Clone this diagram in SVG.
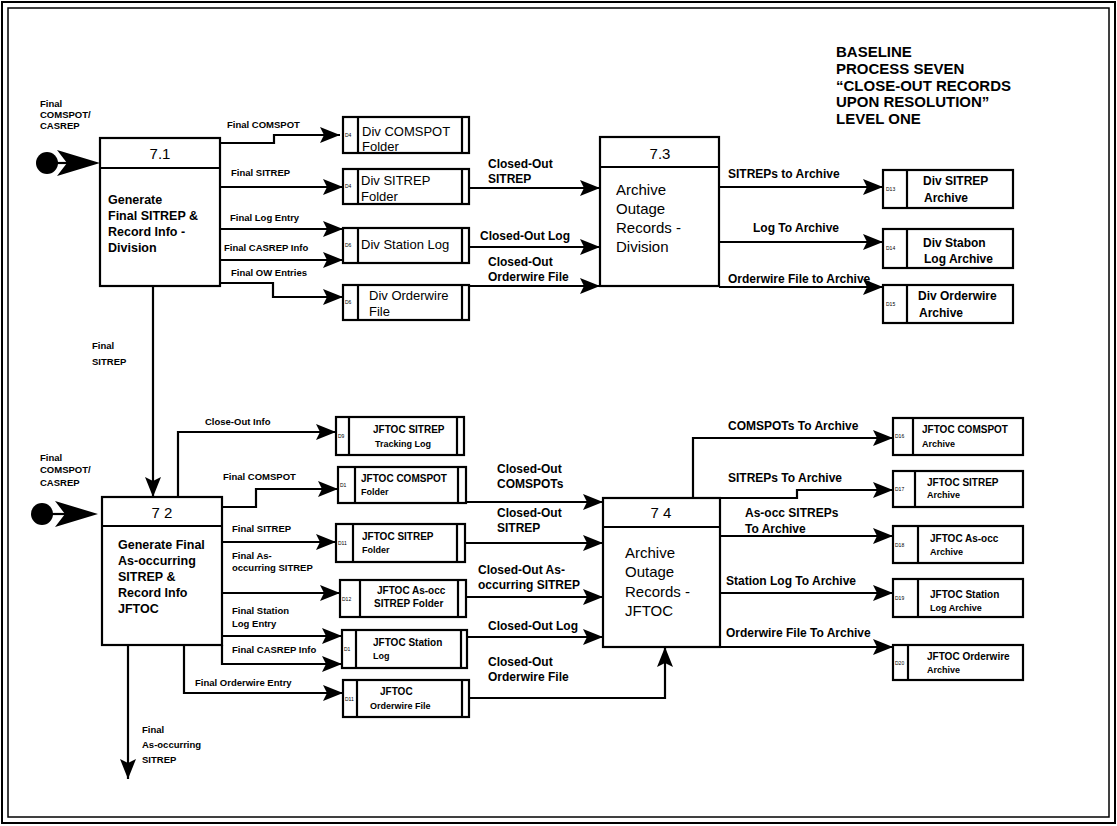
<svg xmlns="http://www.w3.org/2000/svg" width="1117" height="826" viewBox="0 0 1117 826">
<style>
text{font-family:"Liberation Sans",Arial,sans-serif;fill:#000}
.t{font-size:15px;font-weight:bold}
.pn{font-size:15px}
.pb{font-size:12.5px;font-weight:bold}
.pr{font-size:15px}
.lb{font-size:12px;font-weight:bold}
.ls{font-size:9.5px;font-weight:bold}
.sd{font-size:13px}
.sa{font-size:12px;font-weight:bold}
.s1{font-size:10px;font-weight:bold}
.s2{font-size:9px;font-weight:bold}
.id{font-size:5px}
.box{fill:#fff;stroke:#000;stroke-width:2.2}
.ln{fill:none;stroke:#000;stroke-width:2.2}
.c{fill:none;stroke:#000;stroke-width:2.2;marker-end:url(#ah)}
</style>
<defs>
<marker id="ah" viewBox="0 0 20 16" refX="20" refY="8" markerWidth="20" markerHeight="16" markerUnits="userSpaceOnUse" orient="auto"><path d="M0,0 L20,8 L0,16 L4,8 Z" fill="#000"/></marker>
</defs>
<rect x="0" y="0" width="1117" height="826" fill="#fff"/>
<rect x="2" y="2" width="1113" height="821" fill="none" stroke="#000" stroke-width="2"/>
<rect x="8" y="8" width="1101" height="809" fill="none" stroke="#000" stroke-width="1.5"/>

<g id="title">
<text class="t" x="836" y="57">BASELINE</text>
<text class="t" x="836" y="74">PROCESS SEVEN</text>
<text class="t" x="836" y="91">“CLOSE-OUT RECORDS</text>
<text class="t" x="836" y="107">UPON RESOLUTION”</text>
<text class="t" x="836" y="124">LEVEL ONE</text>
</g>

<g id="connectors">
<circle cx="47" cy="163" r="11" fill="#000"/>
<line x1="47" y1="163" x2="68" y2="163" class="ln"/>
<polygon points="57,150 100,163 57,176 67,163" fill="#000"/>
<circle cx="42" cy="514" r="11" fill="#000"/>
<line x1="42" y1="514" x2="66" y2="514" class="ln"/>
<polygon points="55,501 98,514 55,527 65,514" fill="#000"/>
<path class="c" d="M220,143 H274 V135 H340"/>
<path class="c" d="M220,187 H343"/>
<path class="c" d="M220,229 H343"/>
<path class="c" d="M220,260 H343"/>
<path class="c" d="M220,283 H273 V297 H343"/>
<path class="c" d="M153,286 V497"/>
<path class="c" d="M469,188 H600"/>
<path class="c" d="M469,247 H600"/>
<path class="c" d="M469,286 H600"/>
<path class="c" d="M719,187 H883"/>
<path class="c" d="M719,242 H883"/>
<path class="c" d="M719,287 H883"/>
<path class="c" d="M178,497 V432 H336"/>
<path class="c" d="M222,507 H256 V489 H338"/>
<path class="c" d="M222,542 H336"/>
<path class="c" d="M222,593 H340"/>
<path class="c" d="M222,636 H342"/>
<path class="c" d="M222,645 V664 H342"/>
<path class="c" d="M184,645 V693 H343"/>
<path class="c" d="M128,645 V779"/>
<path class="c" d="M466,502 H603"/>
<path class="c" d="M465,543 H603"/>
<path class="c" d="M466,597 H603"/>
<path class="c" d="M467,637 H603"/>
<path class="c" d="M469,698 H665 V647"/>
<path class="c" d="M693,498 V438 H893"/>
<path class="c" d="M720,498 H797 V490 H893"/>
<path class="c" d="M720,536 H893"/>
<path class="c" d="M720,593 H893"/>
<path class="c" d="M720,647 H893"/>

<text class="ls" x="40" y="107">Final</text>
<text class="ls" x="40" y="118">COMSPOT/</text>
<text class="ls" x="40" y="129">CASREP</text>
<text class="ls" x="227" y="128">Final COMSPOT</text>
<text class="ls" x="231" y="176">Final SITREP</text>
<text class="ls" x="230" y="221">Final Log Entry</text>
<text class="ls" x="224" y="251">Final CASREP Info</text>
<text class="ls" x="231" y="276">Final OW Entries</text>
<text class="ls" x="92" y="349">Final</text>
<text class="ls" x="92" y="365">SITREP</text>
<text class="lb" x="488" y="168">Closed-Out</text>
<text class="lb" x="488" y="183">SITREP</text>
<text class="lb" x="480" y="240">Closed-Out Log</text>
<text class="lb" x="488" y="266">Closed-Out</text>
<text class="lb" x="488" y="281">Orderwire File</text>
<text class="lb" x="728" y="178">SITREPs to Archive</text>
<text class="lb" x="753" y="232">Log To Archive</text>
<text class="lb" x="728" y="283">Orderwire File to Archive</text>
<text class="ls" x="40" y="461">Final</text>
<text class="ls" x="40" y="473">COMSPOT/</text>
<text class="ls" x="40" y="486">CASREP</text>
<text class="ls" x="205" y="425">Close-Out Info</text>
<text class="ls" x="223" y="480">Final COMSPOT</text>
<text class="ls" x="232" y="532">Final SITREP</text>
<text class="ls" x="232" y="559">Final As-</text>
<text class="ls" x="232" y="571">occurring SITREP</text>
<text class="ls" x="232" y="614">Final Station</text>
<text class="ls" x="232" y="627">Log Entry</text>
<text class="ls" x="232" y="653">Final CASREP Info</text>
<text class="ls" x="195" y="686">Final Orderwire Entry</text>
<text class="ls" x="142" y="733">Final</text>
<text class="ls" x="142" y="748">As-occurring</text>
<text class="ls" x="142" y="763">SITREP</text>
<text class="lb" x="497" y="473">Closed-Out</text>
<text class="lb" x="497" y="488">COMSPOTs</text>
<text class="lb" x="497" y="517">Closed-Out</text>
<text class="lb" x="497" y="532">SITREP</text>
<text class="lb" x="478" y="574">Closed-Out As-</text>
<text class="lb" x="478" y="589">occurring SITREP</text>
<text class="lb" x="488" y="630">Closed-Out Log</text>
<text class="lb" x="488" y="666">Closed-Out</text>
<text class="lb" x="488" y="681">Orderwire File</text>
<text class="lb" x="728" y="430">COMSPOTs To Archive</text>
<text class="lb" x="728" y="482">SITREPs To Archive</text>
<text class="lb" x="745" y="517">As-occ SITREPs</text>
<text class="lb" x="745" y="533">To Archive</text>
<text class="lb" x="726" y="585">Station Log To Archive</text>
<text class="lb" x="726" y="637">Orderwire File To Archive</text>
</g>

<g id="p71">
<rect class="box" x="100" y="138" width="120" height="148"/>
<line class="ln" x1="100" y1="168" x2="220" y2="168"/>
<text class="pn" x="160" y="159" text-anchor="middle">7.1</text>
<text class="pb" x="108" y="204">Generate</text>
<text class="pb" x="108" y="220">Final SITREP &amp;</text>
<text class="pb" x="108" y="236">Record Info -</text>
<text class="pb" x="108" y="252">Division</text>
</g>
<g id="p73">
<rect class="box" x="600" y="137" width="119" height="149"/>
<line class="ln" x1="600" y1="167" x2="719" y2="167"/>
<text class="pn" x="660" y="159" text-anchor="middle">7.3</text>
<text class="pr" x="616" y="195">Archive</text>
<text class="pr" x="616" y="214">Outage</text>
<text class="pr" x="616" y="233">Records -</text>
<text class="pr" x="616" y="252">Division</text>
</g>
<g id="p72">
<rect class="box" x="102" y="497" width="120" height="148"/>
<line class="ln" x1="102" y1="526" x2="222" y2="526"/>
<text class="pn" x="162" y="518" text-anchor="middle">7 2</text>
<text class="pb" x="118" y="549">Generate Final</text>
<text class="pb" x="118" y="565">As-occurring</text>
<text class="pb" x="118" y="581">SITREP &amp;</text>
<text class="pb" x="118" y="597">Record Info</text>
<text class="pb" x="118" y="613">JFTOC</text>
</g>
<g id="p74">
<rect class="box" x="603" y="498" width="117" height="149"/>
<line class="ln" x1="603" y1="527" x2="720" y2="527"/>
<text class="pn" x="661" y="518" text-anchor="middle">7 4</text>
<text class="pr" x="625" y="558">Archive</text>
<text class="pr" x="625" y="577">Outage</text>
<text class="pr" x="625" y="597">Records -</text>
<text class="pr" x="625" y="616">JFTOC</text>
</g>

<g id="d4">
<rect class="box" x="343" y="117" width="126" height="36"/>
<line class="ln" x1="358" y1="117" x2="358" y2="153"/><line class="ln" x1="462" y1="117" x2="462" y2="153"/>
<text class="id" x="345" y="137">D4</text>
<text class="sd" x="362" y="136">Div COMSPOT</text>
<text class="sd" x="362" y="151">Folder</text>
</g>
<g id="d5">
<rect class="box" x="343" y="169" width="126" height="35"/>
<line class="ln" x1="358" y1="169" x2="358" y2="204"/><line class="ln" x1="462" y1="169" x2="462" y2="204"/>
<text class="id" x="345" y="188">D4</text>
<text class="sd" x="361" y="185">Div SITREP</text>
<text class="sd" x="361" y="201">Folder</text>
</g>
<g id="d6">
<rect class="box" x="343" y="228" width="126" height="35"/>
<line class="ln" x1="358" y1="228" x2="358" y2="263"/><line class="ln" x1="462" y1="228" x2="462" y2="263"/>
<text class="id" x="345" y="247">D6</text>
<text class="sd" x="361" y="249">Div Station Log</text>
</g>
<g id="d8">
<rect class="box" x="343" y="285" width="126" height="35"/>
<line class="ln" x1="358" y1="285" x2="358" y2="320"/><line class="ln" x1="462" y1="285" x2="462" y2="320"/>
<text class="id" x="345" y="304">D6</text>
<text class="sd" x="369" y="300">Div Orderwire</text>
<text class="sd" x="369" y="316">File</text>
</g>
<g id="d13">
<rect class="box" x="883" y="170" width="130" height="38"/>
<line class="ln" x1="907" y1="170" x2="907" y2="208"/>
<text class="id" x="886" y="191">D13</text>
<text class="sa" x="923" y="185">Div SITREP</text>
<text class="sa" x="924" y="202">Archive</text>
</g>
<g id="d14">
<rect class="box" x="883" y="229" width="130" height="39"/>
<line class="ln" x1="907" y1="229" x2="907" y2="268"/>
<text class="id" x="886" y="250">D14</text>
<text class="sa" x="923" y="247">Div Stabon</text>
<text class="sa" x="924" y="263">Log Archive</text>
</g>
<g id="d15">
<rect class="box" x="883" y="285" width="130" height="38"/>
<line class="ln" x1="907" y1="285" x2="907" y2="323"/>
<text class="id" x="886" y="306">D15</text>
<text class="sa" x="918" y="300">Div Orderwire</text>
<text class="sa" x="919" y="317">Archive</text>
</g>

<g id="s1">
<rect class="box" x="336" y="417" width="128" height="38"/>
<line class="ln" x1="349" y1="417" x2="349" y2="455"/><line class="ln" x1="457" y1="417" x2="457" y2="455"/>
<text class="id" x="338" y="438">D9</text>
<text class="s1" x="373" y="433">JFTOC SITREP</text>
<text class="s2" x="375" y="447">Tracking Log</text>
</g>
<g id="s2">
<rect class="box" x="338" y="467" width="128" height="36"/>
<line class="ln" x1="355" y1="467" x2="355" y2="503"/><line class="ln" x1="458" y1="467" x2="458" y2="503"/>
<text class="id" x="340" y="487">D1</text>
<text class="s1" x="361" y="482">JFTOC COMSPOT</text>
<text class="s2" x="361" y="495">Folder</text>
</g>
<g id="s3">
<rect class="box" x="336" y="524" width="129" height="38"/>
<line class="ln" x1="353" y1="524" x2="353" y2="562"/><line class="ln" x1="457" y1="524" x2="457" y2="562"/>
<text class="id" x="338" y="545">D11</text>
<text class="s1" x="362" y="540">JFTOC SITREP</text>
<text class="s2" x="362" y="553">Folder</text>
</g>
<g id="s4">
<rect class="box" x="340" y="580" width="126" height="37"/>
<line class="ln" x1="360" y1="580" x2="360" y2="617"/><line class="ln" x1="458" y1="580" x2="458" y2="617"/>
<text class="id" x="342" y="601">D12</text>
<text class="s1" x="377" y="594">JFTOC As-occ</text>
<text class="s1" x="374" y="607">SITREP Folder</text>
</g>
<g id="s5">
<rect class="box" x="342" y="630" width="125" height="38"/>
<line class="ln" x1="356" y1="630" x2="356" y2="668"/><line class="ln" x1="461" y1="630" x2="461" y2="668"/>
<text class="id" x="344" y="651">D1</text>
<text class="s1" x="373" y="646">JFTOC Station</text>
<text class="s2" x="373" y="659">Log</text>
</g>
<g id="s6">
<rect class="box" x="343" y="680" width="126" height="37"/>
<line class="ln" x1="357" y1="680" x2="357" y2="717"/><line class="ln" x1="462" y1="680" x2="462" y2="717"/>
<text class="id" x="345" y="701">D11</text>
<text class="s1" x="380" y="695">JFTOC</text>
<text class="s2" x="370" y="709">Orderwire File</text>
</g>
<g id="a16">
<rect class="box" x="893" y="418" width="130" height="37"/>
<line class="ln" x1="913" y1="418" x2="913" y2="455"/>
<text class="id" x="895" y="438">D16</text>
<text class="s1" x="922" y="433">JFTOC COMSPOT</text>
<text class="s2" x="922" y="447">Archive</text>
</g>
<g id="a17">
<rect class="box" x="893" y="471" width="130" height="36"/>
<line class="ln" x1="915" y1="471" x2="915" y2="507"/>
<text class="id" x="895" y="491">D17</text>
<text class="s1" x="927" y="486">JFTOC SITREP</text>
<text class="s2" x="927" y="498">Archive</text>
</g>
<g id="a18">
<rect class="box" x="893" y="526" width="130" height="37"/>
<line class="ln" x1="918" y1="526" x2="918" y2="563"/>
<text class="id" x="895" y="547">D18</text>
<text class="s1" x="930" y="542">JFTOC As-occ</text>
<text class="s2" x="930" y="555">Archive</text>
</g>
<g id="a19">
<rect class="box" x="893" y="579" width="130" height="38"/>
<line class="ln" x1="918" y1="579" x2="918" y2="617"/>
<text class="id" x="895" y="600">D19</text>
<text class="s1" x="930" y="598">JFTOC Station</text>
<text class="s2" x="930" y="611">Log Archive</text>
</g>
<g id="a20">
<rect class="box" x="893" y="645" width="130" height="35"/>
<line class="ln" x1="908" y1="645" x2="908" y2="680"/>
<text class="id" x="895" y="665">D20</text>
<text class="s1" x="927" y="660">JFTOC Orderwire</text>
<text class="s2" x="927" y="673">Archive</text>
</g>
</svg>
